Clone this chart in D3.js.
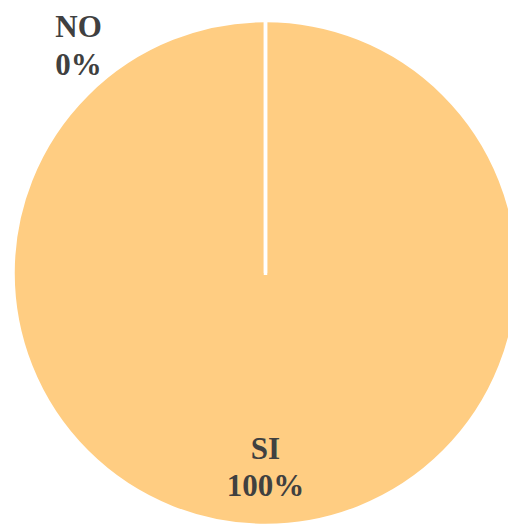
<!DOCTYPE html>
<html><head><meta charset="utf-8">
<script src="https://cdn.jsdelivr.net/npm/d3@7"></script>
<style>html,body{margin:0;padding:0;background:#fff;overflow:hidden}</style>
</head><body>
<svg id="chart" width="508" height="524"></svg>
<script>
const categories = ["NO", "SI"];
const values = [0, 100];
const percentLabels = ["0%", "100%"];

const svg = d3.select("#chart");
const cx = 265.5, cy = 273, r = 252.5;
const g = svg.append("g").attr("transform", `translate(${cx},${cy})`);

const pie = d3.pie().sort(null).value(d => d.v);
const data = pie(categories.map((c, i) => ({c, v: values[i], p: percentLabels[i]})));
const arc = d3.arc().innerRadius(0).outerRadius(r);

g.selectAll("path.slice").data(data.slice().reverse()).join("path")
  .attr("class", "slice")
  .attr("d", arc)
  .attr("fill", "#FFCD82")
  .attr("stroke", "#fff")
  .attr("stroke-width", 3.5)
  .attr("stroke-linejoin", "miter");

// white separator continues slightly past center like the reference
g.append("line")
  .attr("x1", 0).attr("x2", 0)
  .attr("y1", -r).attr("y2", 2)
  .attr("stroke", "#fff").attr("stroke-width", 3.5);

const labelPos = d => {
  if (d.data.v === 0) return [78.5 - cx, 37 - cy];
  const a = (d.startAngle + d.endAngle) / 2;
  const rr = r * 0.78;
  return [Math.sin(a) * rr, -Math.cos(a) * rr - 11];
};
const lbl = g.selectAll("text.lbl").data(data).join("text")
  .attr("class", "lbl")
  .attr("text-anchor", "middle")
  .attr("font-family", "'Liberation Serif','Times New Roman',serif")
  .attr("font-weight", "bold")
  .attr("font-size", 31)
  .attr("fill", "#404040")
  .attr("transform", d => `translate(${labelPos(d)})`);
lbl.append("tspan").attr("x", 0).attr("y", 0).text(d => d.data.c);
lbl.append("tspan").attr("x", 0).attr("y", 37.5).text(d => d.data.p);
</script>
</body></html>
